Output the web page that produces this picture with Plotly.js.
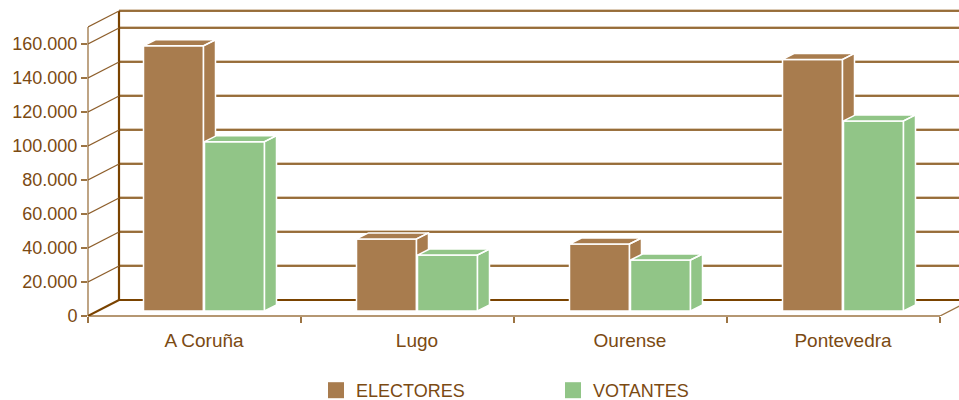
<!DOCTYPE html>
<html>
<head>
<meta charset="utf-8">
<script src="https://cdn.plot.ly/plotly-3.0.1.min.js"></script>
<style>html,body{margin:0;padding:0;background:#fff;}#chart{width:959px;height:400px;}</style>
</head>
<body>
<div id="chart"></div>
<script>
// ---- data ----
var categories = ['A Coruña', 'Lugo', 'Ourense', 'Pontevedra'];
var electores = [156000, 42400, 39400, 148000];
var votantes = [99600, 32900, 30000, 111800];
var yTickVals = [0, 20000, 40000, 60000, 80000, 100000, 120000, 140000, 160000];
var yTickText = ['0', '20.000', '40.000', '60.000', '80.000', '100.000', '120.000', '140.000', '160.000'];
var seriesNames = ['ELECTORES', 'VOTANTES'];

// ---- geometry / style ----
var W = 959, H = 400;
var M = {l: 88, r: 0, t: 8, b: 84, autoexpand: false};
var pxPerCat = 213;            // px per category
var pxPerUnit = 1.7 / 1000;    // px per value unit
var plotW = W - M.l - M.r, plotH = H - M.t - M.b;
var xr = [-0.5, -0.5 + plotW / pxPerCat];
var yr = [0, plotH / pxPerUnit];
function dxPx(p) { return p / pxPerCat; }
function dyPx(p) { return p / pxPerUnit; }

var wallDX = dxPx(31), wallDY = dyPx(16);
var wallTop = 170000;
var faceDX = dxPx(10), faceDY = dyPx(5);     // depth of the bars' front face
var barDX = dxPx(12), barDY = dyPx(6);       // depth of the bars
var barW = dxPx(60);
var pairC = dxPx(9.5);
var gap = dxPx(1);
var leftE = pairC - barW - gap / 2;
var leftV = pairC + gap / 2;

var cBrown = '#A87C4E', cGreen = '#91C587';
var cText = '#7B4A12';
var cDark = '#7A4300', cTan = '#CDB597', cFront = '#9C7443';
var FONT = 'Liberation Sans, Arial, sans-serif';

var idx = categories.map(function (_, i) { return i; });

function faces(vals, left) {
  var xs = [], ys = [];
  vals.forEach(function (v, i) {
    var xl = i + left, xrr = xl + barW, yb = faceDY, yt = faceDY + v;
    // side
    xs.push(xrr, xrr, xrr + barDX, xrr + barDX, xrr, null);
    ys.push(yb, yt, yt + barDY, yb + barDY, yb, null);
    // top
    xs.push(xl, xrr, xrr + barDX, xl + barDX, xl, null);
    ys.push(yt, yt, yt + barDY, yt + barDY, yt, null);
  });
  return {x: xs, y: ys};
}

var fE = faces(electores, leftE), fV = faces(votantes, leftV);

var traces = [
  {type: 'bar', name: seriesNames[0], x: idx, y: electores, base: faceDY, offset: leftE, width: barW,
   marker: {color: cBrown, line: {color: '#ffffff', width: 1.5}}, xaxis: 'x', yaxis: 'y', hoverinfo: 'skip',
   showlegend: false, legendgroup: 'e'},
  {type: 'scatter', mode: 'lines', x: fE.x, y: fE.y, fill: 'toself', fillcolor: cBrown,
   line: {color: '#ffffff', width: 1.5}, showlegend: false, legendgroup: 'e', xaxis: 'x', yaxis: 'y', hoverinfo: 'skip'},
  {type: 'bar', name: seriesNames[1], x: idx, y: votantes, base: faceDY, offset: leftV, width: barW,
   marker: {color: cGreen, line: {color: '#ffffff', width: 1.5}}, xaxis: 'x2', yaxis: 'y2', hoverinfo: 'skip',
   showlegend: false, legendgroup: 'v'},
  {type: 'scatter', mode: 'lines', x: fV.x, y: fV.y, fill: 'toself', fillcolor: cGreen,
   line: {color: '#ffffff', width: 1.5}, showlegend: false, legendgroup: 'v', xaxis: 'x2', yaxis: 'y2', hoverinfo: 'skip'},
  // legend keys (16px squares like the reference)
  {type: 'scatter', mode: 'markers', name: seriesNames[0], x: [null], y: [null], legendgroup: 'e',
   marker: {symbol: 'square', size: 16, color: cBrown}, hoverinfo: 'skip'},
  {type: 'scatter', mode: 'markers', name: seriesNames[1], x: [null], y: [null], legendgroup: 'v',
   marker: {symbol: 'square', size: 16, color: cGreen}, hoverinfo: 'skip'}
];

// ---- 3D frame ----
var shapes = [];
function line(x0, y0, x1, y1, color, width, xref, yref) {
  shapes.push({type: 'line', xref: xref || 'x', yref: yref || 'y', x0: x0, y0: y0, x1: x1, y1: y1,
    layer: 'below', line: {color: color, width: width}});
}
var bx = -0.5 + wallDX;
var farX = xr[1] + 1;
var hl = dyPx(1.2);
// back wall gridlines + top edge
yTickVals.concat([wallTop]).forEach(function (v) {
  if (v === 0) return;
  line(bx, v + wallDY + hl, farX, v + wallDY + hl, cTan, 1);
  line(bx, v + wallDY, farX, v + wallDY, cDark, 1.5);
});
// floor back edge
line(bx, wallDY, farX, wallDY, cDark, 2.2);
// back-left vertical
line(bx, wallDY, bx, wallTop + wallDY, cDark, 2.2);
// left wall diagonals
yTickVals.forEach(function (v) {
  if (v === 0) return;
  line(-0.5, v, bx, v + wallDY, '#8E5F2C', 1.2);
});
line(-0.5, wallTop, bx, wallTop + wallDY, '#8E5F2C', 1.2);
// floor left diagonal
line(-0.5, 0, bx, wallDY, cDark, 2);
// floor right diagonal
line(3.5, 0, 3.5 + wallDX, wallDY, cFront, 1.3);
// front left vertical axis
line(0, 0, 0, wallTop, cFront, 1.3, 'paper', 'y');
// front bottom edge
line(-0.5, 0, 3.5, 0, cFront, 1.5, 'x', 'paper');

var axCommon = {showgrid: false, zeroline: false, showline: false, fixedrange: true};

var layout = {
  width: W, height: H,
  margin: M,
  paper_bgcolor: '#ffffff', plot_bgcolor: 'rgba(0,0,0,0)',
  font: {family: FONT, size: 18, color: cText},
  showlegend: true,
  barmode: 'overlay',
  xaxis: Object.assign({}, axCommon, {
    range: xr, tickmode: 'array', tickvals: idx.map(function (i) { return i + pairC; }), ticktext: categories,
    ticks: '', ticklabelstandoff: 11, tickfont: {family: FONT, size: 19, color: cText},
    minor: {tickmode: 'array', tickvals: [-0.5, 0.5, 1.5, 2.5, 3.5], ticks: 'outside', ticklen: 6, tickwidth: 1.3, tickcolor: cFront}
  }),
  yaxis: Object.assign({}, axCommon, {
    range: yr, tickmode: 'array', tickvals: yTickVals, ticktext: yTickText,
    ticks: 'outside', ticklen: 6, tickwidth: 1.3, tickcolor: cFront,
    tickfont: {family: FONT, size: 18, color: cText}
  }),
  xaxis2: Object.assign({}, axCommon, {range: xr, overlaying: 'x', anchor: 'y2', showticklabels: false, ticks: ''}),
  yaxis2: Object.assign({}, axCommon, {range: yr, overlaying: 'y', anchor: 'x2', showticklabels: false, ticks: ''}),
  legend: {orientation: 'h', x: (319 - 3 - M.l) / plotW, y: -(372 - 316) / plotH, xanchor: 'left', yanchor: 'top',
    entrywidth: 192, entrywidthmode: 'pixels', itemwidth: 30, font: {family: FONT, size: 18, color: cText},
    bgcolor: 'rgba(0,0,0,0)'},
  shapes: shapes
};

Plotly.newPlot('chart', traces, layout, {displayModeBar: false, staticPlot: true});
</script>
</body>
</html>
